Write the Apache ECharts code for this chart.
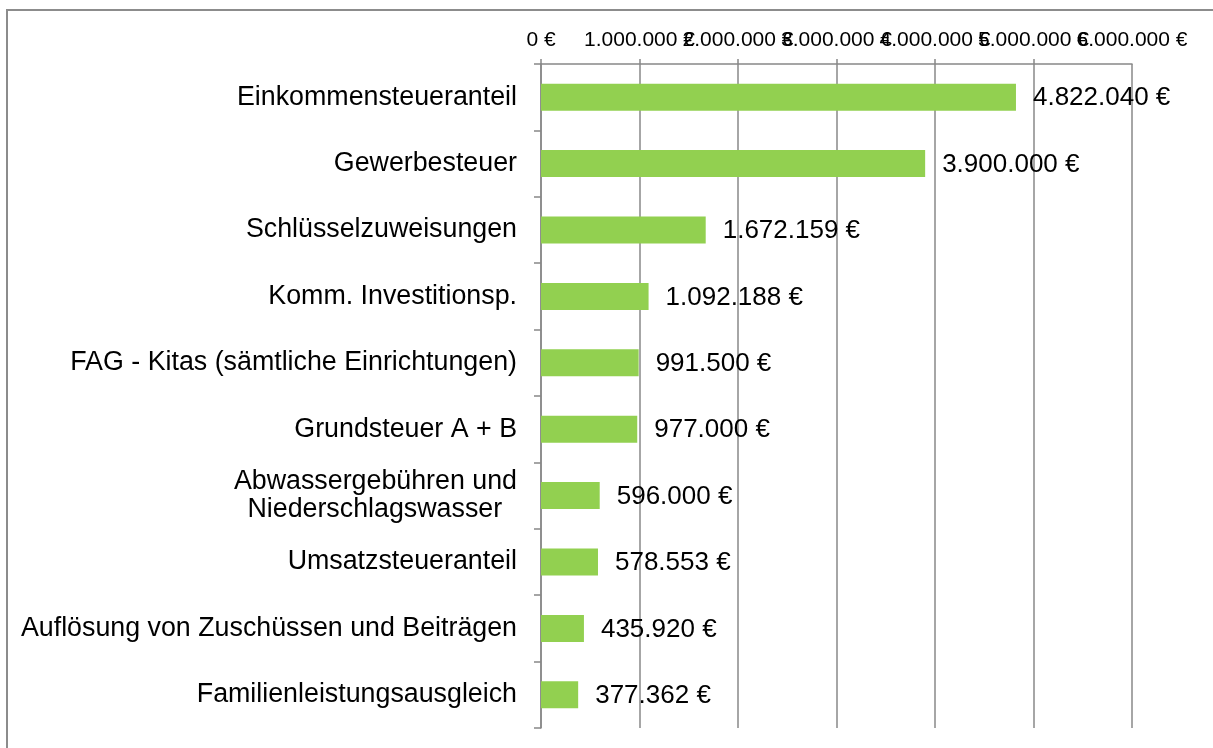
<!DOCTYPE html>
<html>
<head>
<meta charset="utf-8">
<title>Erträge</title>
<script src="https://cdn.jsdelivr.net/npm/echarts@6/dist/echarts.min.js"></script>
<style>
	html, body { margin: 0; padding: 0; background: #fff; }
	#chart { width: 1213px; height: 748px; }
</style>
</head>
<body>
<div id="chart"></div>
<script>
var categories = [
	'Einkommensteueranteil',
	'Gewerbesteuer',
	'Schlüsselzuweisungen',
	'Komm. Investitionsp.',
	'FAG - Kitas (sämtliche Einrichtungen)',
	'Grundsteuer A + B',
	'Abwassergebühren und\nNiederschlagswasser  ',
	'Umsatzsteueranteil',
	'Auflösung von Zuschüssen und Beiträgen',
	'Familienleistungsausgleich'
];
var values = [4822040, 3900000, 1672159, 1092188, 991500, 977000, 596000, 578553, 435920, 377362];
var axisMin = 0;
var axisMax = 6000000;
var axisStep = 1000000;

// 1234567 -> "1.234.567 €"
function euro(v){
	return String(Math.round(v)).replace(/\B(?=(\d{3})+(?!\d))/g, '.') + ' €';
}

ertraege_barChart = {
	categories:null,
	values:null,

	option:null,
	div:null,
	chart:null,
	initData:function(div,obj){
		this.categories = obj.categories;
		this.values = obj.values;

		this.div = div;
		this.chart = echarts.init(this.div);
		var font = '"Liberation Sans", Arial, sans-serif';
		var gray = '#888888';
		var tickLabel = {
			color: '#000',
			fontSize: 21,
			fontFamily: font,
			margin: 13,
			hideOverlap: false
		};
		this.option = {
			animation: false,
			textStyle: { fontFamily: font },
			color: ['#92D050'],
			graphic: [
				{
					// Rahmen links/oben
					type: 'polyline',
					shape: { points: [[7, 748], [7, 10], [1213, 10]] },
					style: { stroke: '#8c8c8c', lineWidth: 2, fill: null }
				}
			],
			grid: {
				left: 541,
				right: 81,
				top: 64,
				bottom: 20,
				containLabel: false
			},
			xAxis: [
				{
					type: 'value',
					position: 'top',
					min: axisMin,
					max: axisMax,
					interval: axisStep,
					axisLine: { show: true, lineStyle: { color: gray, width: 1.5 } },
					axisTick: { show: true, length: 5, lineStyle: { color: gray, width: 1.5 } },
					splitLine: { show: true, lineStyle: { color: gray, width: 1.5 } },
					axisLabel: Object.assign({}, tickLabel, {
						showMinLabel: true,
						showMaxLabel: false,
						formatter: euro
					})
				},
				{
					// nur für die letzte Beschriftung (überlappt wie im Original)
					type: 'value',
					position: 'top',
					min: axisMin,
					max: axisMax,
					interval: axisStep,
					axisLine: { show: false },
					axisTick: { show: false },
					splitLine: { show: false },
					axisLabel: Object.assign({}, tickLabel, {
						showMinLabel: true,
						showMaxLabel: true,
						formatter: function(v){ return v === axisMax ? euro(v) : ''; }
					})
				}
			],
			yAxis: {
				type: 'category',
				inverse: true,
				data: [],
				axisLine: { show: true, lineStyle: { color: gray, width: 1.5 } },
				axisTick: { show: true, length: 7, inside: false, lineStyle: { color: gray, width: 1.5 } },
				axisLabel: {
					color: '#000',
					fontSize: 26.8,
					fontFamily: font,
					lineHeight: 28,
					margin: 24,
					interval: 0
				}
			},
			series: [
				{
					type: 'bar',
					xAxisIndex: 0,
					barWidth: 27,
					data: [],
					label: {
						show: true,
						position: 'right',
						distance: 17,
						offset: [0, 1],
						color: '#000',
						fontSize: 26,
						fontFamily: font,
						formatter: function(p){ return euro(p.value); }
					}
				}
			]
		};

		ertraege_barChart.process(this);
	},
	process:function(barChartObject){
		barChartObject.option.yAxis.data = barChartObject.categories;
		barChartObject.option.series[0].data = barChartObject.values;
		barChartObject.view();
	},
	view:function(){
		this.chart.setOption(this.option, true);
	},
	resize:function(){
		if(this.chart != null){
			this.chart.resize();
		}
	}
};

ertraege_barChart.initData(document.getElementById('chart'), {
	categories: categories,
	values: values
});
</script>
</body>
</html>
